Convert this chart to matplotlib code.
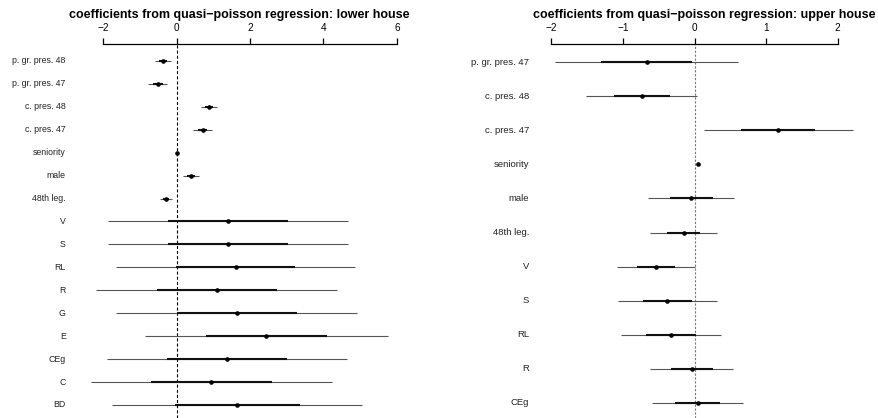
import matplotlib
matplotlib.use("Agg")
import matplotlib.pyplot as plt
import numpy as np

plt.rcParams['font.family'] = ['Liberation Sans', 'DejaVu Sans']
plt.rcParams['lines.scale_dashes'] = False

# lower house coefficients (estimate, standard error)
lower_names = ["p. gr. pres. 48", "p. gr. pres. 47", "c. pres. 48", "c. pres. 47",
               "seniority", "male", "48th leg.", "V", "S", "RL", "R", "G", "E",
               "CEg", "C", "BD"]
lower_coef = [-0.37, -0.51, 0.89, 0.71, 0.02, 0.39, -0.29,
              1.39, 1.41, 1.61, 1.10, 1.64, 2.45, 1.38, 0.95, 1.65]
lower_se = [0.11, 0.13, 0.105, 0.13, 0.01, 0.11, 0.08,
            1.635, 1.635, 1.63, 1.64, 1.64, 1.66, 1.635, 1.645, 1.70]

# upper house coefficients
upper_names = ["p. gr. pres. 47", "c. pres. 48", "c. pres. 47", "seniority",
               "male", "48th leg.", "V", "S", "RL", "R", "CEg"]
upper_coef = [-0.67, -0.74, 1.17, 0.042, -0.047, -0.154,
              -0.54, -0.38, -0.33, -0.037, 0.042]
upper_se = [0.64, 0.39, 0.52, 0.01, 0.30, 0.235,
            0.27, 0.345, 0.35, 0.29, 0.32]

lower_ticks = [-2, 0, 2, 4, 6]
upper_ticks = [-2, -1, 0, 1, 2]

W, H = 879, 418
fig = plt.figure(figsize=(W / 100, H / 100), dpi=100)


def coefplot(rect, names, coef, se, ticks, title, ylims, label_px, label_size,
             zero_color, zero_dash):
    coef = np.asarray(coef)
    se = np.asarray(se)
    idx = np.arange(1, len(coef) + 1)
    ax = fig.add_axes(rect)

    # x range like R: data range plus 4%
    lo = (coef - 2 * se).min()
    hi = (coef + 2 * se).max()
    pad = 0.04 * (hi - lo)
    ax.set_xlim(lo - pad, hi + pad)
    ax.set_ylim(*ylims)

    ax.axvline(0, color=zero_color, lw=0.8, dashes=zero_dash, zorder=1)
    ax.hlines(idx, coef - 2 * se, coef + 2 * se, color="#555555", lw=0.8, zorder=2)
    ax.hlines(idx, coef - se, coef + se, color="#111111", lw=1.5, zorder=3)
    ax.plot(coef, idx, "o", color="black", ms=2.3, zorder=4)

    for sp in ["left", "right", "bottom"]:
        ax.spines[sp].set_visible(False)
    ax.spines["top"].set_bounds(ticks[0], ticks[-1])
    ax.spines["top"].set_linewidth(0.9)
    ax.xaxis.tick_top()
    ax.set_xticks(ticks)
    ax.tick_params(axis="x", length=4, width=0.9, pad=4, labelsize=7.2)
    ax.set_yticks([])

    # variable names in the left margin
    x0 = rect[0] * W
    x1 = (rect[0] + rect[2]) * W
    xl = ax.get_xlim()
    lab_x = xl[0] + (label_px - x0) / (x1 - x0) * (xl[1] - xl[0])
    for i, n in zip(idx, names):
        ax.text(lab_x, i, n, ha="right", va="center", fontsize=label_size,
                color="#222222", clip_on=False)

    fig.text(rect[0] + rect[2] / 2, 1 - 18 / H, title, ha="center",
             va="baseline", fontsize=9, fontweight="bold")
    return ax


top = 1 - 44 / H
coefplot([78.7 / W, 0, (400.3 - 78.7) / W, top], lower_names, lower_coef, lower_se,
         lower_ticks, "coefficients from quasi\u2212poisson regression: lower house",
         (16.57, 0.259), 65.7, 6.3, "black", (2.2, 1.5))
coefplot([543.1 / W, 0, (864.6 - 543.1) / W, top], upper_names, upper_coef, upper_se,
         upper_ticks, "coefficients from quasi\u2212poisson regression: upper house",
         (11.44, 0.472), 529.3, 6.8, "#777777", (1.6, 1.2))

fig.savefig("out.png", dpi=100)
